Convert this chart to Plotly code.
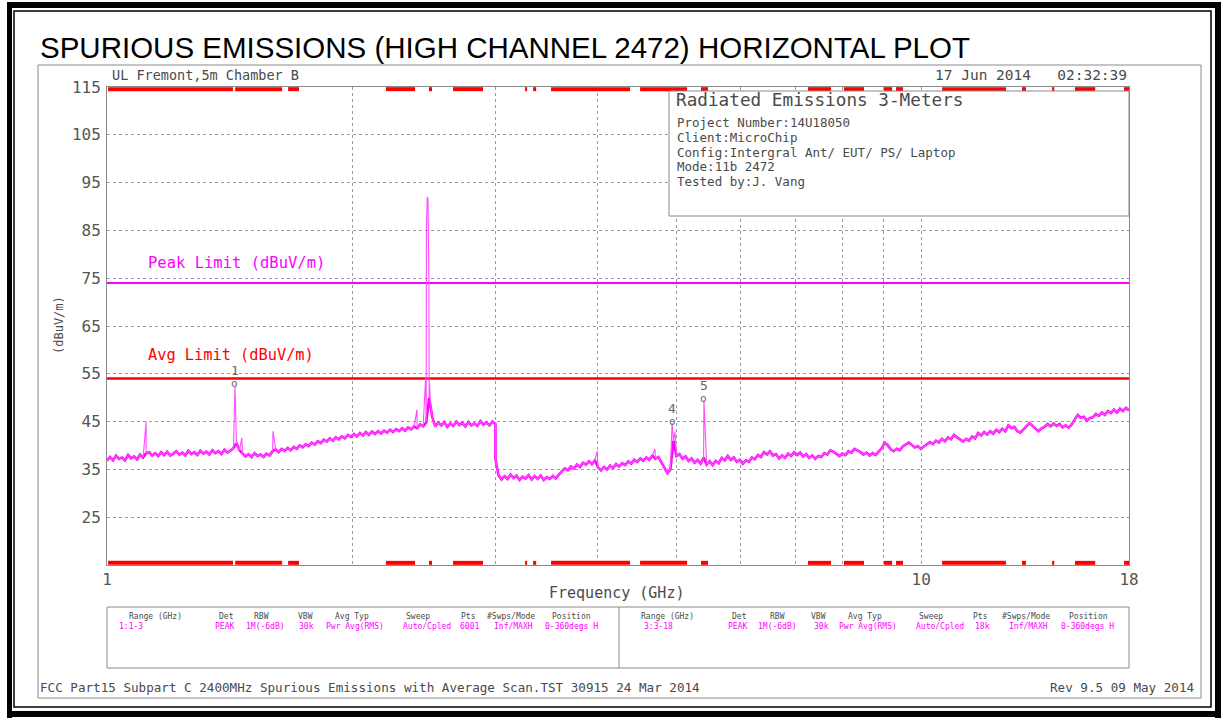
import numpy as np
import plotly.graph_objects as go

# ---------------- data ----------------
# sweep 1: 1-3 GHz (max-hold trace levels, dBuV/m)
r1_levels = [
    36.8, 37.6, 36.9, 37.9, 37.2, 37.5, 36.9, 38.0, 37.3, 37.7, 37.1, 38.1, 37.5,
    38.4, 38.6, 37.9,
    38.4, 37.8, 38.6, 38.0, 38.7, 37.9, 38.3, 38.8, 38.1, 38.5, 37.9, 38.9, 38.2,
    38.6, 38.0, 38.9, 38.3, 38.7, 38.1, 39.0, 38.4, 38.8, 38.2, 39.1, 38.5, 38.9,
    39.5, 40.5, 39.0,
    38.3, 37.7, 38.2, 37.6, 38.4, 37.8, 38.1, 37.6, 38.3, 37.9,
    38.8, 39.2, 38.6, 39.3,
    38.9, 39.5, 39.0, 39.7, 39.3, 40.0, 39.6, 40.3, 39.9, 40.6, 40.2, 40.9, 40.5,
    41.2, 40.8, 41.5, 41.0, 41.7, 41.3, 41.9, 41.5, 42.2, 41.8,
    42.4, 41.9, 42.6, 42.1, 42.8, 42.2, 42.9, 42.4, 43.0, 42.5, 43.1, 42.7, 43.3,
    42.8, 43.4, 43.0, 43.6, 43.1, 43.8, 43.4, 44.0, 43.6, 44.4, 44.0,
    44.8, 50.0, 46.0,
    44.0, 44.8, 44.2, 44.9, 43.9, 44.6, 44.1, 45.0, 44.3, 44.7, 44.0, 44.9, 44.2,
    44.6, 44.1, 45.1, 44.4, 44.8, 44.2, 45.0, 44.5,
]
# sweep 3: 3-18 GHz
r2_levels = [
    37.2,
    33.8, 32.9, 33.6, 33.0, 33.9, 33.2, 33.7, 32.8, 33.5, 33.1, 33.8, 32.9, 33.6,
    33.0, 33.7, 32.8, 33.4, 33.0, 33.6, 33.1,
    33.9, 34.6, 35.2, 34.8, 35.6, 35.2, 36.0, 35.5, 36.4, 36.0, 36.7, 36.1, 36.9,
    35.4, 34.8, 35.5, 35.0, 35.8, 35.3, 36.1, 35.6, 36.3, 35.9, 36.7, 36.2, 37.0,
    36.6, 37.3, 36.8, 37.5, 37.0, 37.9, 37.2, 37.6, 36.4, 35.5, 34.2, 35.0, 41.0,
    37.8, 38.2, 37.2, 37.7, 36.8, 37.3, 36.4, 37.0, 36.2, 37.5, 36.0, 36.7, 35.9,
    36.8, 36.3, 37.4, 36.9, 37.8, 37.0, 37.5, 36.6, 37.0, 36.2, 36.9, 36.6, 37.5,
    37.1, 38.0, 37.6, 38.6, 38.1, 38.8, 37.9, 38.2, 37.3, 37.9, 37.4, 38.3, 37.8,
    38.6, 38.0, 38.5, 37.7, 38.2, 37.4, 37.9, 37.2, 37.8, 37.6, 38.4, 38.1, 39.0,
    38.7, 38.2, 37.8, 38.3, 38.0, 38.8, 38.5, 39.3, 39.0, 38.6, 38.1, 38.5, 37.9,
    38.4, 38.0, 38.6, 39.4, 40.6, 40.1, 39.2, 38.8, 39.3, 39.0, 39.8, 40.2, 40.6,
    40.1, 39.6, 39.9, 39.3, 39.8, 40.2, 40.7, 40.3, 41.0, 40.6, 41.4, 40.9, 41.7,
    41.3, 42.2, 41.7, 41.2, 40.8, 41.4, 41.0, 41.9, 41.5, 42.6, 42.1, 42.8, 42.3,
    43.0, 42.5, 43.3, 42.8, 43.5, 43.0, 44.2, 43.6, 43.9, 43.0, 42.7, 43.4, 43.9,
    44.7, 44.1, 43.5, 43.0, 43.6, 43.9, 44.5, 44.0, 44.6, 44.1, 44.5, 43.8, 44.2,
    43.7, 44.4, 45.3, 46.4, 45.8, 46.0, 45.2, 45.7, 45.9, 46.6, 46.2, 46.9, 46.4,
    47.2, 46.8, 47.5, 46.9, 47.7, 47.2, 47.9, 47.3,
]
# narrow emissions (GHz, dBuV/m)
spike_freq = [1.117, 1.436, 1.464, 1.599, 2.403, 2.462, 2.468, 2.474, 2.479,
              2.485, 2.490, 2.496, 4.000, 4.710, 4.944, 4.985, 5.410]
spike_level = [45.0, 52.5, 41.6, 43.0, 47.5, 54.0, 86.0, 92.0, 91.5,
               75.0, 53.0, 49.0, 38.8, 39.3, 44.7, 42.9, 49.5]

peak_limit = 74.0
avg_limit = 54.0

mk_label = ["1", "4", "5"]
mk_freq = [1.436, 4.944, 5.410]
mk_level = [52.5, 44.7, 49.5]

# red range bars along top & bottom (GHz)
bar_start = [1.003, 1.437, 1.669, 2.201, 2.486, 2.661, 3.262, 3.337, 3.511, 4.516,
             5.365, 7.261, 8.039, 9.004, 9.314, 10.61, 13.30, 14.48, 15.45, 17.75]
bar_end = [1.428, 1.641, 1.721, 2.390, 2.507, 2.896, 3.281, 3.366, 4.390, 5.158,
           5.472, 7.750, 8.508, 9.211, 9.500, 12.71, 13.45, 14.57, 16.36, 18.0]

y_ticks = [25, 35, 45, 55, 65, 75, 85, 95, 105, 115]
x_ticks = [1, 10, 18]
x_tick_text = ["1", "10", "18"]
x_minor = [2, 3, 4, 5, 6, 7, 8, 9]

info_title = "Radiated Emissions 3-Meters"
info_lines = ["Project Number:14U18050", "Client:MicroChip",
              "Config:Intergral Ant/ EUT/ PS/ Laptop", "Mode:11b 2472",
              "Tested by:J. Vang"]

tbl_head = ["Range (GHz)", "Det", "RBW", "VBW", "Avg Typ", "Sweep", "Pts",
            "#Swps/Mode", "Position"]
tbl_row1 = ["1:1-3", "PEAK", "1M(-6dB)", "30k", "Pwr Avg(RMS)", "Auto/Cpled",
            "6001", "Inf/MAXH", "0-360degs H"]
tbl_row2 = ["3:3-18", "PEAK", "1M(-6dB)", "30k", "Pwr Avg(RMS)", "Auto/Cpled",
            "18k", "Inf/MAXH", "0-360degs H"]

# ---------------- build trace ----------------
f1 = np.geomspace(1.0, 3.0, len(r1_levels))
f2 = np.geomspace(3.0, 18.0, len(r2_levels))
base_f = np.concatenate([f1, f2])
base_l = np.concatenate([np.array(r1_levels), np.array(r2_levels)])
freq = np.concatenate([base_f, np.array(spike_freq)])
lvl = np.concatenate([base_l, np.array(spike_level)])
order = np.argsort(freq, kind="stable")
freq = freq[order]
lvl = lvl[order]

# ---------------- layout geometry ----------------
W, H = 1225, 722
L, R, T, B = 107, 1129, 87, 565


def px(x):
    return (x - L) / (R - L)


def py(y):
    return (B - y) / (B - T)


MONO = "DejaVu Sans Mono"
GREY = "#4a4a4a"
MAG = "#ff00ff"

fig = go.Figure()

fig.add_trace(go.Scatter(x=[1, 18], y=[peak_limit, peak_limit], mode="lines",
                         line=dict(color=MAG, width=2), hoverinfo="skip"))
fig.add_trace(go.Scatter(x=[1, 18], y=[avg_limit, avg_limit], mode="lines",
                         line=dict(color="#ff0000", width=2.5), hoverinfo="skip"))
# noise floor band (thick) and full trace with narrow emissions (thin)
fig.add_trace(go.Scatter(x=base_f, y=base_l, mode="lines",
                         line=dict(color=MAG, width=2.6), hoverinfo="skip"))
fig.add_trace(go.Scatter(x=freq, y=lvl, mode="lines",
                         line=dict(color="#ff4dff", width=1.1), hoverinfo="skip"))

# red bars
bx, by_top, by_bot = [], [], []
for s, e in zip(bar_start, bar_end):
    bx += [s, e, None]
    by_top += [114.55, 114.55, None]
    by_bot += [15.45, 15.45, None]
fig.add_trace(go.Scatter(x=bx, y=by_top, mode="lines",
                         line=dict(color="#ff0000", width=4), hoverinfo="skip"))
fig.add_trace(go.Scatter(x=bx, y=by_bot, mode="lines",
                         line=dict(color="#ff0000", width=4), hoverinfo="skip"))

shapes = []
ann = []


def rect(x0, y0, x1, y1, color="black", width=1, fill=None, layer="above"):
    shapes.append(dict(type="rect", xref="paper", yref="paper",
                       x0=px(x0), x1=px(x1), y0=py(y0), y1=py(y1),
                       line=dict(color=color, width=width),
                       fillcolor=fill, layer=layer))


def line(x0, y0, x1, y1, color="black", width=1):
    shapes.append(dict(type="line", xref="paper", yref="paper",
                       x0=px(x0), x1=px(x1), y0=py(y0), y1=py(y1),
                       line=dict(color=color, width=width), layer="above"))


def text(x, y, s, size, color=GREY, anchor="left", family=MONO, angle=0):
    ann.append(dict(xref="paper", yref="paper", x=px(x), y=py(y), text=s,
                    showarrow=False, xanchor=anchor, yanchor="middle",
                    textangle=angle,
                    font=dict(family=family, size=size, color=color)))


# outer black frames
for (x0, y0, x1, y1) in [(7, 2, 12, 718), (7, 2, 1221, 8), (1215, 2, 1221, 718), (7, 711, 1221, 717)]:
    shapes.append(dict(type="rect", xref="paper", yref="paper",
                       x0=px(x0), x1=px(x1), y0=py(y0), y1=py(y1),
                       line=dict(width=0), fillcolor="black", layer="above"))
rect(14, 11, 1211, 707, color="black", width=1.5)
# grey page frame
rect(38, 65, 1201, 698, color="#8a8a8a", width=1)
# info box (covers grid, sits just under the red top bars)
shapes.append(dict(type="rect", xref="paper", yref="paper",
                   x0=px(669), x1=px(1129), y0=py(216), y1=py(91),
                   line=dict(color="#8a8a8a", width=1), fillcolor="white",
                   layer="above"))
# settings table
rect(107, 607, 1129, 668, color="#8a8a8a", width=1)
line(619, 607, 619, 668, color="#8a8a8a", width=1)

# texts
text(38, 47, "SPURIOUS EMISSIONS (HIGH CHANNEL 2472) HORIZONTAL PLOT", 29.5,
     color="black", family="Liberation Sans, Arial")
text(110, 75, "UL Fremont,5m Chamber B", 13.5)
text(1129, 75, "17 Jun 2014   02:32:39", 14.5, anchor="right")
text(674, 100, info_title, 17.7)
for i, s in enumerate(info_lines):
    text(675, 123 + i * 14.5, s, 12.5)
text(50, 325, "(dBuV/m)", 12, angle=-90)
text(616, 593, "Frequency (GHz)", 15, anchor="center")
text(146, 263, "Peak Limit (dBuV/m)", 15.5, color=MAG)
text(146, 355, "Avg Limit (dBuV/m)", 15.3, color="#ff0000")

head1_x = [155, 226, 261, 305, 352, 418, 468, 511, 571]
val1_x = [117, 224, 265, 306, 355, 427, 469, 513, 571]
head2_x = [667, 739, 777, 818, 865, 931, 980, 1026, 1088]
val2_x = [642, 737, 777, 821, 868, 940, 982, 1028, 1087]
for j, h in enumerate(tbl_head):
    text(head1_x[j], 616, h, 8, anchor="center")
    text(head2_x[j], 616, h, 8, anchor="center")
for j, v in enumerate(tbl_row1):
    a = "left" if j == 0 else "center"
    text(val1_x[j], 626, v, 8, color=MAG, anchor=a)
for j, v in enumerate(tbl_row2):
    a = "left" if j == 0 else "center"
    text(val2_x[j], 626, v, 8, color=MAG, anchor=a)

text(38, 687, "FCC Part15 Subpart C 2400MHz Spurious Emissions with Average Scan.TST 30915 24 Mar 2014", 12.6)
text(1196, 687, "Rev 9.5 09 May 2014", 12.6, anchor="right")

# markers
for lab, f, v in zip(mk_label, mk_freq, mk_level):
    ann.append(dict(xref="x", yref="y", x=np.log10(f), y=v, text="o",
                    showarrow=False, yanchor="middle", yshift=2,
                    font=dict(family=MONO, size=11, color="#666")))
    ann.append(dict(xref="x", yref="y", x=np.log10(f), y=v, text=lab,
                    showarrow=False, yanchor="middle", yshift=15,
                    font=dict(family=MONO, size=13, color="#666")))

fig.update_layout(
    width=W, height=H,
    margin=dict(l=L, r=W - R, t=T, b=H - B, pad=0),
    paper_bgcolor="white", plot_bgcolor="white",
    showlegend=False,
    shapes=shapes, annotations=ann,
    xaxis=dict(type="log", range=[0, np.log10(18)], tickvals=x_ticks,
               ticktext=x_tick_text, showgrid=True, gridcolor="#9a9a9a",
               griddash="dot", gridwidth=1, showline=True, linecolor="#8a8a8a",
               linewidth=1, mirror=True, ticks="", zeroline=False,
               tickfont=dict(family=MONO, size=16, color="#555"),
               minor=dict(tickvals=x_minor, showgrid=True, gridcolor="#9a9a9a",
                          griddash="dot", gridwidth=1, ticks="")),
    yaxis=dict(range=[15, 115], tickvals=y_ticks, showgrid=True,
               gridcolor="#9a9a9a", griddash="dot", gridwidth=1, showline=True,
               linecolor="#8a8a8a", linewidth=1, mirror=True, ticks="",
               zeroline=False, ticklabelstandoff=2,
               tickfont=dict(family=MONO, size=16, color="#555")),
)

fig.write_html("out.html", config={"displayModeBar": False},
               post_script="document.body.style.margin='0';")
